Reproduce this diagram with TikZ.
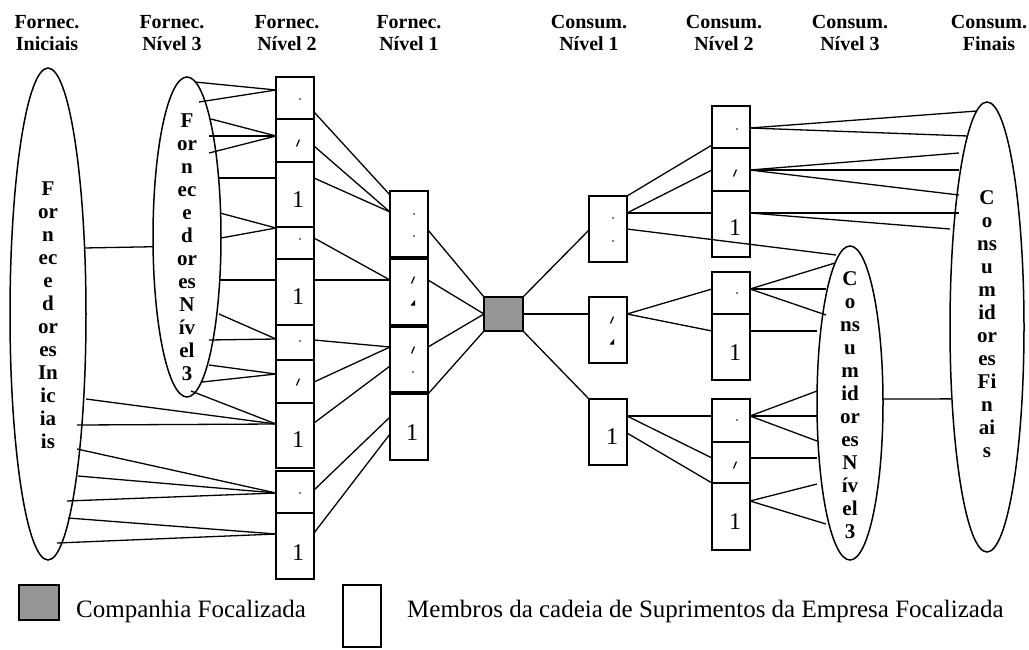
\documentclass[tikz,border=0pt]{standalone}
\usepackage{fontspec}
\setmainfont{Liberation Serif}
\usetikzlibrary{shapes.geometric}
\definecolor{focal}{RGB}{150,150,150}
\begin{document}
\begin{tikzpicture}[x=1pt,y=-1pt,
  box/.style={draw, line width=1.8pt, minimum width=38pt, inner sep=0pt, outer sep=0pt},
  focbox/.style={draw, fill=focal, line width=1.8pt, inner sep=0pt, outer sep=0pt},
  ell/.style={draw, ellipse, line width=1.5pt, inner sep=0pt, outer sep=0pt},
  link/.style={line width=1.3pt},
  head/.style={font=\fontsize{20}{22}\selectfont\bfseries, align=center, inner sep=0pt},
  ellabel/.style={font=\fontsize{21}{23}\selectfont\bfseries, align=center, inner sep=0pt},
  digit/.style={font=\fontsize{24}{24}\selectfont, inner sep=0pt},
  legend/.style={font=\fontsize{25}{27}\selectfont, anchor=base west, inner sep=0pt},
  tick/.style={line width=1.2pt},
]
\useasboundingbox (0,0) rectangle (1029,649);

% column headings
\node[head] (h1) at (47,33)  {Fornec.\\Iniciais};
\node[head] (h2) at (172,33) {Fornec.\\Nível 3};
\node[head] (h3) at (287,33) {Fornec.\\Nível 2};
\node[head] (h4) at (409,33) {Fornec.\\Nível 1};
\node[head] (h5) at (589,33) {Consum.\\Nível 1};
\node[head] (h6) at (724,33) {Consum.\\Nível 2};
\node[head] (h7) at (850,33) {Consum.\\Nível 3};
\node[head] (h8) at (989,33) {Consum.\\Finais};

% ellipses of the outer tiers
\node[ell, minimum width=76, minimum height=492] (fini) at (48,314) {};
\node[ell, minimum width=68, minimum height=320] (f3e)  at (187,237) {};
\node[ell, minimum width=66, minimum height=314] (k3e)  at (850,403) {};
\node[ell, minimum width=74, minimum height=450] (kfe)  at (987,327) {};
\node[ellabel] (tini) at (48,315)    {F\\or\\n\\ec\\e\\d\\or\\es\\In\\ic\\ia\\is};
\node[ellabel] (tf3)  at (187,247.5) {F\\or\\n\\ec\\e\\d\\or\\es\\N\\ív\\el\\3};
\node[ellabel] (tk3)  at (850,405.5) {C\\o\\ns\\u\\m\\id\\or\\es\\N\\ív\\el\\3};
\node[ellabel] (tkf)  at (987,324.5) {C\\o\\ns\\u\\m\\id\\or\\es\\Fi\\n\\ai\\s};

% supplier tier 2 column
\node[box, minimum height=42] (s2a) at (295,98) {};
\node[box, minimum height=43] (s2b) at (295,140.5) {};
\node[box, minimum height=65] (s2c) at (295,194.5) {};
\node[box, minimum height=32] (s2d) at (295,243) {};
\node[box, minimum height=66] (s2e) at (295,292) {};
\node[box, minimum height=35] (s2f) at (295,342.5) {};
\node[box, minimum height=43] (s2g) at (295,381.5) {};
\node[box, minimum height=65] (s2h) at (295,435.5) {};
\node[box, minimum height=42] (s2i) at (295,492) {};
\node[box, minimum height=66] (s2j) at (295,546) {};

% supplier tier 1 column
\node[box, minimum height=66] (s1a) at (409,224) {};
\node[box, minimum height=66] (s1b) at (409,292) {};
\node[box, minimum height=65] (s1c) at (409,359.5) {};
\node[box, minimum height=66] (s1d) at (409,427) {};

% focal company
\node[focbox, minimum width=39, minimum height=34] (foc) at (503.5,314) {};

% customer tier 1 column
\node[box, minimum height=66] (k1a) at (608,229) {};
\node[box, minimum height=66] (k1b) at (608,330) {};
\node[box, minimum height=66] (k1c) at (608,432) {};

% customer tier 2 column
\node[box, minimum height=42] (k2a) at (731,127) {};
\node[box, minimum height=43] (k2b) at (731,169.5) {};
\node[box, minimum height=66] (k2c) at (731,224) {};
\node[box, minimum height=42] (k2d) at (731,293) {};
\node[box, minimum height=66] (k2e) at (731,347) {};
\node[box, minimum height=43] (k2f) at (731,420.5) {};
\node[box, minimum height=41] (k2g) at (731,462.5) {};
\node[box, minimum height=67] (k2h) at (731,516.5) {};

% clipped numbers inside the boxes
\foreach \x/\y [count=\i] in {298/200, 298/297, 298/440, 298/553, 412/433, 612/437, 735/228, 735/353, 735/522}
  \node[digit] (one\i) at (\x,\y) {1};
\foreach \x/\y in {300/99, 300/239, 300/341, 300/493, 414/214, 414/236, 413/372, 613/218, 613/241, 737/129, 737/293, 737/420}
  \fill (\x,\y) circle (0.9);
\foreach \x/\y in {298/143, 298/382, 413/280, 413/350, 612/320, 735/173, 735/465}
  \draw[tick] (\x-1.5,\y+3.5) -- (\x+1.5,\y-3.5);
\foreach \x/\y in {413/303, 612/342}
  \fill (\x-2.5,\y+2.5) -- (\x+2,\y+2.5) -- (\x+2,\y-3) -- cycle;

% initial suppliers to tier 3
\draw[link] (fini.61) -- (f3e.196);

% tier 3 and initial suppliers to tier 2
\foreach \dx/\dy/\b/\s in {8/155/s2a/13, 12/135/s2a/13, 24/118/s2b/17, 22/101/s2b/17, 22/84/s2b/17,
    32/59/s2c/16, 33/24/s2d/1, 34/-1/s2d/1, 33/-43/s2e/21, 32/-77/s2f/14, 22/-103/s2f/14,
    22/-128/s2g/14, 15/-145/s2g/14, 4/-154/s2h/21}
  \draw[link] ([xshift=\dx,yshift=\dy]f3e.center) -- ([yshift=-\s]\b.north west);
\foreach \dx/\dy/\b/\s in {38/-85/s2h/21, 29/-111/s2h/21, 29/-135/s2i/22, 30/-162/s2i/22,
    19/-187/s2i/22, 20/-204/s2j/21, 9/-229/s2j/21}
  \draw[link] ([xshift=\dx,yshift=\dy]fini.center) -- ([yshift=-\s]\b.north west);

% tier 2 to tier 1
\foreach \a/\sa/\b/\sb in {s2a/35/s1a/4, s2b/27/s1a/21, s2c/16/s1a/21, s2d/11/s1b/21,
    s2e/21/s1b/21, s2f/15/s1c/20, s2g/22/s1c/20, s2h/20/s1c/39, s2i/19/s1d/23, s2j/20/s1d/40}
  \draw[link] ([yshift=-\sa]\a.north east) -- ([yshift=-\sb]\b.north west);

% tier 1 to the focal company
\draw[link] ([yshift=-39]s1a.north east) -- (foc.north west);
\draw[link] ([yshift=-21]s1b.north east) -- (foc.west);
\draw[link] ([yshift=-20]s1c.north east) -- (foc.west);
\draw[link] (s1d.north east) -- (foc.south west);

% focal company to customer tier 1
\draw[link] (foc.north east) -- ([yshift=-34]k1a.north west);
\draw[link] (foc.east) -- ([yshift=-17]k1b.north west);
\draw[link] (foc.south east) -- (k1c.north west);

% customer tier 1 to tier 2
\draw[link] (k1a.north east) -- ([yshift=-39]k2a.north west);
\draw[link] ([yshift=-17]k1a.north east) -- ([yshift=-22]k2b.north west);
\draw[link] ([yshift=-17]k1a.north east) -- ([yshift=-22]k2c.north west);
\draw[link] ([yshift=-33]k1a.north east) -- ([xshift=-14,yshift=148]k3e.center);
\draw[link] ([yshift=-17]k1b.north east) -- ([yshift=-17]k2d.north west);
\draw[link] ([yshift=-17]k1b.north east) -- ([yshift=-17]k2e.north west);
\draw[link] ([yshift=-17]k1c.north east) -- ([yshift=-17]k2f.north west);
\draw[link] ([yshift=-17]k1c.north east) -- ([yshift=-16]k2g.north west);
\draw[link] ([yshift=-34]k1c.north east) -- (k2h.north west);

% customer tier 2 to final customers
\foreach \b/\dx/\dy in {k2a/-10/216, k2a/-19/191, k2b/-28/174, k2b/-28/157, k2b/-28/132,
    k2c/-28/114, k2c/-37/98}
  \draw[link] ([yshift=-22]\b.north east) -- ([xshift=\dx,yshift=\dy]kfe.center);

% customer tier 2 to tier 3
\foreach \b/\s/\dx/\dy in {k2d/17/-15/140, k2d/17/-24/114, k2d/17/-24/88, k2e/17/-33/72,
    k2f/17/-33/12, k2f/17/-33/-13, k2f/17/-33/-38, k2g/16/-33/-55, k2h/18/-33/-81, k2h/18/-24/-121}
  \draw[link] ([yshift=-\s]\b.north east) -- ([xshift=\dx,yshift=\dy]k3e.center);

% customer tier 3 to final customers
\draw[link] (k3e.7) -- (kfe.244);

% legend
\node[focbox, minimum width=40, minimum height=35] (legf) at (39,602.5) {};
\node[legend] (legft) at (76,617) {Companhia Focalizada};
\node[box, minimum height=62] (legm) at (362,616) {};
\node[legend] (legmt) at (407,617) {Membros da cadeia de Suprimentos da Empresa Focalizada};
\end{tikzpicture}
\end{document}
